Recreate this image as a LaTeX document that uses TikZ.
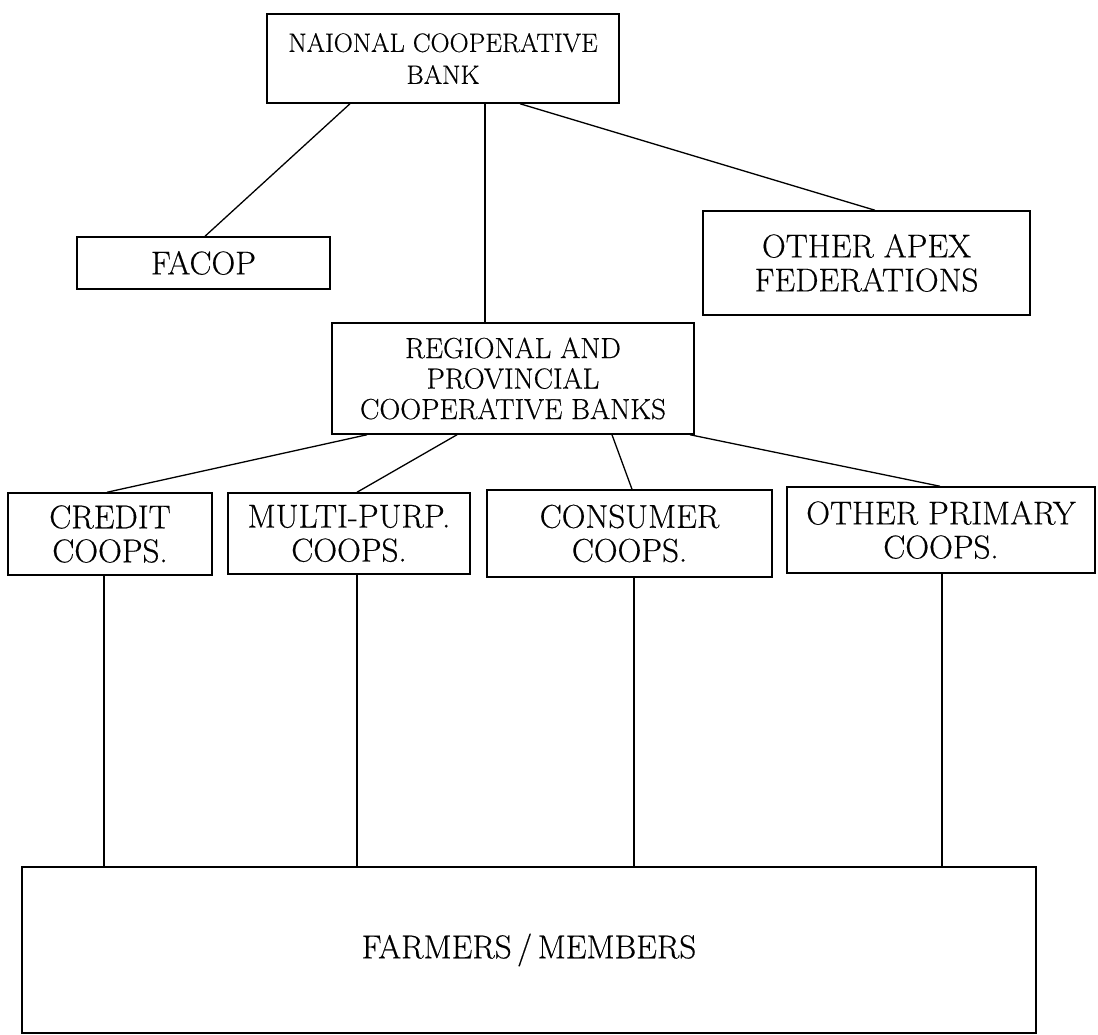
\documentclass[tikz,border=0pt]{standalone}
\usepackage{fontspec}
\setmainfont{Latin Modern Roman}[FakeBold=0.4]
\begin{document}
\begin{tikzpicture}[x=1pt,y=-1pt,
  orgbox/.style={draw,line width=1.5pt,inner sep=0pt,align=center,
    font=\fontsize{33}{34}\selectfont},
  link/.style={line width=1.3pt}]
\useasboundingbox (0,0) rectangle (1098,1035);

% boxes
\node[orgbox,minimum width=352pt,minimum height=89pt,
  font=\fontsize{26.5}{32}\selectfont] (ncb) at (443,58.5) {NAIONAL COOPERATIVE\\BANK};
\node[orgbox,minimum width=253pt,minimum height=52pt] (facop) at (203.5,263) {FACOP};
\node[orgbox,minimum width=327pt,minimum height=104pt] (apex) at (866.5,263) {OTHER APEX\\FEDERATIONS};
\node[orgbox,minimum width=362pt,minimum height=111pt,
  font=\fontsize{29}{30.5}\selectfont] (reg) at (513,378.5) {REGIONAL AND\\PROVINCIAL\\COOPERATIVE BANKS};
\node[orgbox,minimum width=204pt,minimum height=82pt] (credit) at (110,534) {CREDIT\\COOPS.};
\node[orgbox,minimum width=242pt,minimum height=81pt] (multi) at (349,533.5) {MULTI-PURP.\\COOPS.};
\node[orgbox,minimum width=285pt,minimum height=87pt] (consumer) at (629.5,533.5) {CONSUMER\\COOPS.};
\node[orgbox,minimum width=308pt,minimum height=86pt] (other) at (941,530) {OTHER PRIMARY\\COOPS.};
\node[orgbox,minimum width=1014pt,minimum height=166pt] (farmers) at (529,950) {FARMERS\,/\,MEMBERS};

% national bank to federations and regional banks
\draw[link] ([xshift=-93pt]ncb.south) -- ([xshift=1.5pt]facop.north);
\draw[link] ([xshift=42pt]ncb.south) -- ([xshift=-28pt]reg.north);
\draw[link] ([xshift=77pt]ncb.south) -- ([xshift=8.5pt]apex.north);

% regional banks to primary cooperatives
\draw[link] ([xshift=-146pt]reg.south) -- ([xshift=-3pt]credit.north);
\draw[link] ([xshift=-56pt]reg.south) -- ([xshift=8pt]multi.north);
\draw[link] ([xshift=99pt]reg.south) -- ([xshift=2.5pt]consumer.north);
\draw[link] ([xshift=177pt]reg.south) -- ([xshift=-1pt]other.north);

% primary cooperatives to members
\draw[link] ([xshift=-6pt]credit.south) -- ([xshift=-425pt]farmers.north);
\draw[link] ([xshift=8pt]multi.south) -- ([xshift=-172pt]farmers.north);
\draw[link] ([xshift=4.5pt]consumer.south) -- ([xshift=105pt]farmers.north);
\draw[link] ([xshift=1pt]other.south) -- ([xshift=413pt]farmers.north);
\end{tikzpicture}
\end{document}
